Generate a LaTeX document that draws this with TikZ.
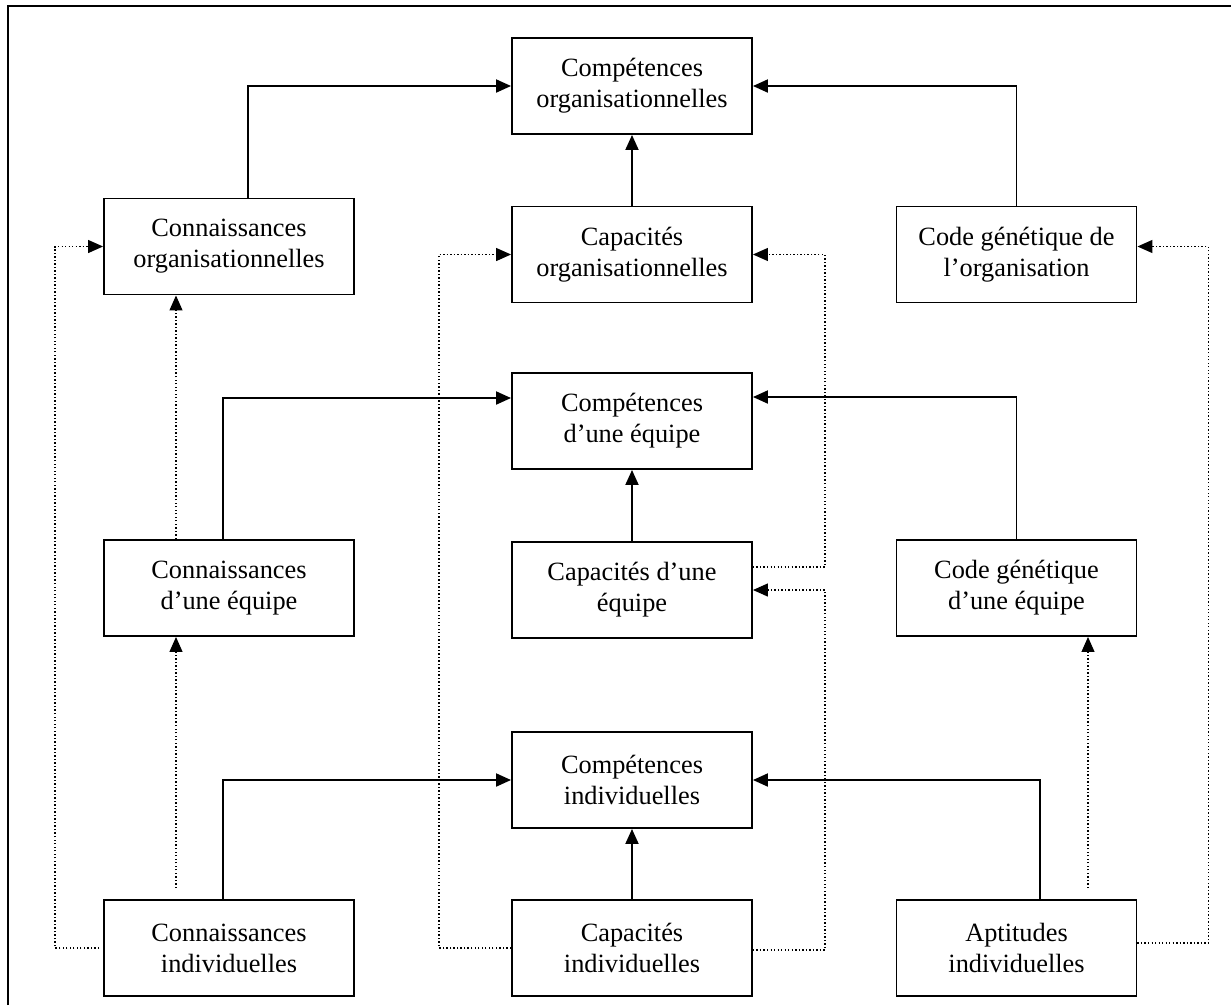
\documentclass[tikz,border=0pt]{standalone}
\usepackage{fontspec}
\setmainfont{Liberation Serif}
\usepackage{tikz}
\usetikzlibrary{arrows.meta, positioning}

\begin{document}
\begin{tikzpicture}[
    x=0.02cm, y=-0.02cm,
    box/.style={rectangle, draw, line width=1.1pt, minimum width=4.8cm, minimum height=1.92cm, align=center, font=\fontsize{15}{17.6}\selectfont},
    widebox/.style={box, minimum width=5cm},
    arrow/.style={-{Triangle[length=0.3cm, width=0.26cm]}, line width=1.1pt},
    dotarrow/.style={-{Triangle[length=0.3cm, width=0.26cm]}, line width=0.7pt, dash pattern=on 0.8pt off 1.2pt}
]
    \useasboundingbox (0,0) rectangle (1231,1005);

    % Frame
    \draw[line width=1.1pt] (8,1005) -- (8,6) -- (1231,6);

    % Organisation level
    \node[box] (compOrg) at (632,86) {Compétences\\organisationnelles};
    \node[widebox] (connOrg) at (229,246.5) {Connaissances\\organisationnelles};
    \node[box] (capOrg) at (632,254.5) {Capacités\\organisationnelles};
    \node[box] (codeOrg) at (1016.5,254.5) {Code génétique de\\l’organisation};

    % Team level
    \node[box] (compEq) at (632,421) {Compétences\\d’une équipe};
    \node[widebox] (connEq) at (229,588) {Connaissances\\d’une équipe};
    \node[box] (capEq) at (632,590) {Capacités d’une\\équipe};
    \node[box] (codeEq) at (1016.5,588) {Code génétique\\d’une équipe};

    % Individual level
    \node[box] (compInd) at (632,780) {Compétences\\individuelles};
    \node[widebox] (connInd) at (229,948) {Connaissances\\individuelles};
    \node[box] (capInd) at (632,948) {Capacités\\individuelles};
    \node[box] (aptInd) at (1016.5,948) {Aptitudes\\individuelles};

    % Solid links
    \draw[arrow] ([shift={(19,0)}]connOrg.north) |- (compOrg.west);
    \draw[arrow] (codeOrg.north) |- (compOrg.east);
    \draw[arrow] (capOrg.north) -- (compOrg.south);

    \draw[arrow] ([shift={(-6,0)}]connEq.north) |- ([shift={(0,-23)}]compEq.west);
    \draw[arrow] (codeEq.north) |- ([shift={(0,-24)}]compEq.east);
    \draw[arrow] (capEq.north) -- (compEq.south);

    \draw[arrow] ([shift={(-6,0)}]connInd.north) |- (compInd.west);
    \draw[arrow] ([shift={(23.5,0)}]aptInd.north) |- (compInd.east);
    \draw[arrow] (capInd.north) -- (compInd.south);

    % Dotted links
    \draw[dotarrow] ([shift={(-4,0)}]connInd.west) -- ++(-44,0) |- (connOrg.west);
    \draw[dotarrow] ([shift={(-53,-11)}]connInd.north) -- ([shift={(-53,0)}]connEq.south);
    \draw[dotarrow] ([shift={(-53,0)}]connEq.north) -- ([shift={(-53,0)}]connOrg.south);

    \draw[dotarrow] (capInd.west) -- ++(-72,0) |- (capOrg.west);
    \draw[dotarrow] ([shift={(0,2)}]capInd.east) -- ++(72,0) |- (capEq.east);
    \draw[dotarrow] ([shift={(0,-23)}]capEq.east) -- ++(72,0) |- (capOrg.east);

    \draw[dotarrow] ([shift={(0,-5)}]aptInd.east) -- ++(71,0) |- ([shift={(0,-8)}]codeOrg.east);
    \draw[dotarrow] ([shift={(71.5,-11)}]aptInd.north) -- ([shift={(71.5,0)}]codeEq.south);
\end{tikzpicture}
\end{document}
